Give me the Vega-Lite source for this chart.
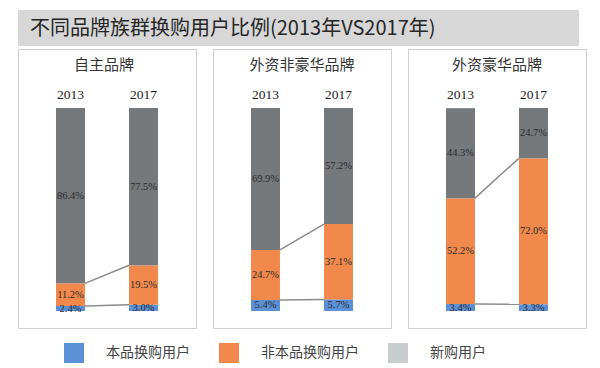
{
  "$schema": "https://vega.github.io/schema/vega-lite/v6.json",
  "padding": {"left": 17, "top": 10, "right": 4, "bottom": 4},
  "background": "white",
  "data": {"values": [
    {"brand": "自主品牌", "year": "2013", "type": "本品换购用户", "value": 2.4},
    {"brand": "自主品牌", "year": "2013", "type": "非本品换购用户", "value": 11.2},
    {"brand": "自主品牌", "year": "2013", "type": "新购用户", "value": 86.4},
    {"brand": "自主品牌", "year": "2017", "type": "本品换购用户", "value": 3.0},
    {"brand": "自主品牌", "year": "2017", "type": "非本品换购用户", "value": 19.5},
    {"brand": "自主品牌", "year": "2017", "type": "新购用户", "value": 77.5},
    {"brand": "外资非豪华品牌", "year": "2013", "type": "本品换购用户", "value": 5.4},
    {"brand": "外资非豪华品牌", "year": "2013", "type": "非本品换购用户", "value": 24.7},
    {"brand": "外资非豪华品牌", "year": "2013", "type": "新购用户", "value": 69.9},
    {"brand": "外资非豪华品牌", "year": "2017", "type": "本品换购用户", "value": 5.7},
    {"brand": "外资非豪华品牌", "year": "2017", "type": "非本品换购用户", "value": 37.1},
    {"brand": "外资非豪华品牌", "year": "2017", "type": "新购用户", "value": 57.2},
    {"brand": "外资豪华品牌", "year": "2013", "type": "本品换购用户", "value": 3.4},
    {"brand": "外资豪华品牌", "year": "2013", "type": "非本品换购用户", "value": 52.2},
    {"brand": "外资豪华品牌", "year": "2013", "type": "新购用户", "value": 44.3},
    {"brand": "外资豪华品牌", "year": "2017", "type": "本品换购用户", "value": 3.3},
    {"brand": "外资豪华品牌", "year": "2017", "type": "非本品换购用户", "value": 72.0},
    {"brand": "外资豪华品牌", "year": "2017", "type": "新购用户", "value": 24.7}
  ]},
  "transform": [
    {"calculate": "indexof(['本品换购用户','非本品换购用户','新购用户'], datum.type)", "as": "ord"},
    {"stack": "value", "groupby": ["brand", "year"], "sort": [{"field": "ord", "order": "ascending"}], "as": ["y0", "y1"]},
    {"calculate": "(datum.y0 + datum.y1) / 2", "as": "ym"},
    {"calculate": "format(datum.value, '.1f') + '%'", "as": "label"}
  ],
  "spacing": 2,
  "vconcat": [
    {
      "width": 561, "height": 36,
      "view": {"fill": "#d7d7d7", "stroke": null},
      "title": {"text": "不同品牌族群换购用户比例(2013年VS2017年)", "anchor": "start", "offset": -29, "dx": 12, "fontSize": 20, "color": "#262626"},
      "data": {"values": [{}]},
      "transform": [],
      "mark": {"type": "text"},
      "encoding": {"text": {"value": ""}}
    },
    {
      "spacing": 15,
      "hconcat": [
        {
          "width": 178, "height": 279,
          "view": {"stroke": "#cfcfcf", "fill": "#ffffff"},
          "title": {"text": "自主品牌", "dx": -3},
          "transform": [{"filter": "datum.brand === '自主品牌'"}],
          "layer": [
            {
              "mark": {"type": "bar"},
              "encoding": {
                "x": {"field": "year", "type": "ordinal", "title": null, "scale": {"range": [15.5, 162.5], "paddingInner": 0.603, "paddingOuter": 0.308}, "axis": {"labels": false, "tickBand": "extent", "tickSize": 4, "domainColor": "#bdbdbd", "tickColor": "#bdbdbd"}},
                "y": {"field": "y0", "type": "quantitative", "scale": {"domain": [-8.4, 129.1], "nice": false, "zero": false}, "axis": null},
                "y2": {"field": "y1"},
                "color": {"field": "type", "type": "nominal", "title": null, "scale": {"domain": ["本品换购用户", "非本品换购用户", "新购用户"], "range": ["#5b8fd6", "#f2894c", "#c9cdcd"]}}
              }
            },
            {
              "transform": [{"filter": "datum.type === '新购用户'"}],
              "mark": {"type": "bar", "color": "#76797c"},
              "encoding": {
                "x": {"field": "year", "type": "ordinal", "axis": null},
                "y": {"field": "y0", "type": "quantitative", "scale": {"domain": [-8.4, 129.1], "nice": false, "zero": false}, "axis": null},
                "y2": {"field": "y1"}
              }
            },
            {
              "transform": [{"filter": "datum.type !== '新购用户'"}, {"pivot": "year", "value": "y1", "groupby": ["type"]}],
              "mark": {"type": "rule", "color": "#8c8c8c", "strokeWidth": 1.5},
              "encoding": {
                "x": {"datum": "2013", "type": "ordinal", "bandPosition": 1, "axis": null},
                "x2": {"datum": "2017", "bandPosition": 0},
                "y": {"field": "2013", "type": "quantitative", "scale": {"domain": [-8.4, 129.1], "nice": false, "zero": false}, "axis": null},
                "y2": {"field": "2017"}
              }
            },
            {
              "mark": {"type": "text", "font": "Liberation Serif", "fontSize": 10.5, "color": "#2b2b2b"},
              "encoding": {
                "x": {"field": "year", "type": "ordinal", "axis": null},
                "y": {"field": "ym", "type": "quantitative", "scale": {"domain": [-8.4, 129.1], "nice": false, "zero": false}, "axis": null},
                "text": {"field": "label"}
              }
            },
            {
              "transform": [{"filter": "datum.type === '本品换购用户'"}],
              "mark": {"type": "text", "font": "Liberation Serif", "fontSize": 13.5, "color": "#222222"},
              "encoding": {
                "x": {"field": "year", "type": "ordinal", "axis": null},
                "y": {"datum": 106.6, "type": "quantitative", "scale": {"domain": [-8.4, 129.1], "nice": false, "zero": false}, "axis": null},
                "text": {"field": "year"}
              }
            }
          ]
        },
        {
          "width": 178, "height": 279,
          "view": {"stroke": "#cfcfcf", "fill": "#ffffff"},
          "title": {"text": "外资非豪华品牌"},
          "transform": [{"filter": "datum.brand === '外资非豪华品牌'"}],
          "layer": [
            {
              "mark": {"type": "bar"},
              "encoding": {
                "x": {"field": "year", "type": "ordinal", "title": null, "scale": {"range": [15.5, 162.5], "paddingInner": 0.603, "paddingOuter": 0.308}, "axis": {"labels": false, "tickBand": "extent", "tickSize": 4, "domainColor": "#bdbdbd", "tickColor": "#bdbdbd"}},
                "y": {"field": "y0", "type": "quantitative", "scale": {"domain": [-8.4, 129.1], "nice": false, "zero": false}, "axis": null},
                "y2": {"field": "y1"},
                "color": {"field": "type", "type": "nominal", "title": null, "scale": {"domain": ["本品换购用户", "非本品换购用户", "新购用户"], "range": ["#5b8fd6", "#f2894c", "#c9cdcd"]}}
              }
            },
            {
              "transform": [{"filter": "datum.type === '新购用户'"}],
              "mark": {"type": "bar", "color": "#76797c"},
              "encoding": {
                "x": {"field": "year", "type": "ordinal", "axis": null},
                "y": {"field": "y0", "type": "quantitative", "scale": {"domain": [-8.4, 129.1], "nice": false, "zero": false}, "axis": null},
                "y2": {"field": "y1"}
              }
            },
            {
              "transform": [{"filter": "datum.type !== '新购用户'"}, {"pivot": "year", "value": "y1", "groupby": ["type"]}],
              "mark": {"type": "rule", "color": "#8c8c8c", "strokeWidth": 1.5},
              "encoding": {
                "x": {"datum": "2013", "type": "ordinal", "bandPosition": 1, "axis": null},
                "x2": {"datum": "2017", "bandPosition": 0},
                "y": {"field": "2013", "type": "quantitative", "scale": {"domain": [-8.4, 129.1], "nice": false, "zero": false}, "axis": null},
                "y2": {"field": "2017"}
              }
            },
            {
              "mark": {"type": "text", "font": "Liberation Serif", "fontSize": 10.5, "color": "#2b2b2b"},
              "encoding": {
                "x": {"field": "year", "type": "ordinal", "axis": null},
                "y": {"field": "ym", "type": "quantitative", "scale": {"domain": [-8.4, 129.1], "nice": false, "zero": false}, "axis": null},
                "text": {"field": "label"}
              }
            },
            {
              "transform": [{"filter": "datum.type === '本品换购用户'"}],
              "mark": {"type": "text", "font": "Liberation Serif", "fontSize": 13.5, "color": "#222222"},
              "encoding": {
                "x": {"field": "year", "type": "ordinal", "axis": null},
                "y": {"datum": 106.6, "type": "quantitative", "scale": {"domain": [-8.4, 129.1], "nice": false, "zero": false}, "axis": null},
                "text": {"field": "year"}
              }
            }
          ]
        },
        {
          "width": 178, "height": 279,
          "view": {"stroke": "#cfcfcf", "fill": "#ffffff"},
          "title": {"text": "外资豪华品牌"},
          "transform": [{"filter": "datum.brand === '外资豪华品牌'"}],
          "layer": [
            {
              "mark": {"type": "bar"},
              "encoding": {
                "x": {"field": "year", "type": "ordinal", "title": null, "scale": {"range": [15.5, 162.5], "paddingInner": 0.603, "paddingOuter": 0.308}, "axis": {"labels": false, "tickBand": "extent", "tickSize": 4, "domainColor": "#bdbdbd", "tickColor": "#bdbdbd"}},
                "y": {"field": "y0", "type": "quantitative", "scale": {"domain": [-8.4, 129.1], "nice": false, "zero": false}, "axis": null},
                "y2": {"field": "y1"},
                "color": {"field": "type", "type": "nominal", "title": null, "scale": {"domain": ["本品换购用户", "非本品换购用户", "新购用户"], "range": ["#5b8fd6", "#f2894c", "#c9cdcd"]}}
              }
            },
            {
              "transform": [{"filter": "datum.type === '新购用户'"}],
              "mark": {"type": "bar", "color": "#76797c"},
              "encoding": {
                "x": {"field": "year", "type": "ordinal", "axis": null},
                "y": {"field": "y0", "type": "quantitative", "scale": {"domain": [-8.4, 129.1], "nice": false, "zero": false}, "axis": null},
                "y2": {"field": "y1"}
              }
            },
            {
              "transform": [{"filter": "datum.type !== '新购用户'"}, {"pivot": "year", "value": "y1", "groupby": ["type"]}],
              "mark": {"type": "rule", "color": "#8c8c8c", "strokeWidth": 1.5},
              "encoding": {
                "x": {"datum": "2013", "type": "ordinal", "bandPosition": 1, "axis": null},
                "x2": {"datum": "2017", "bandPosition": 0},
                "y": {"field": "2013", "type": "quantitative", "scale": {"domain": [-8.4, 129.1], "nice": false, "zero": false}, "axis": null},
                "y2": {"field": "2017"}
              }
            },
            {
              "mark": {"type": "text", "font": "Liberation Serif", "fontSize": 10.5, "color": "#2b2b2b"},
              "encoding": {
                "x": {"field": "year", "type": "ordinal", "axis": null},
                "y": {"field": "ym", "type": "quantitative", "scale": {"domain": [-8.4, 129.1], "nice": false, "zero": false}, "axis": null},
                "text": {"field": "label"}
              }
            },
            {
              "transform": [{"filter": "datum.type === '本品换购用户'"}],
              "mark": {"type": "text", "font": "Liberation Serif", "fontSize": 13.5, "color": "#222222"},
              "encoding": {
                "x": {"field": "year", "type": "ordinal", "axis": null},
                "y": {"datum": 106.6, "type": "quantitative", "scale": {"domain": [-8.4, 129.1], "nice": false, "zero": false}, "axis": null},
                "text": {"field": "year"}
              }
            }
          ]
        }
      ]
    }
  ],
  "config": {
    "title": {"font": "Noto Sans CJK SC", "fontWeight": "normal", "fontSize": 15, "color": "#333333", "offset": -24},
    "legend": {
      "orient": "none", "legendX": 46, "legendY": 333, "direction": "horizontal", "columns": 3,
      "symbolType": "square", "symbolSize": 400, "symbolStrokeWidth": 0, "symbolOpacity": 1,
      "labelFont": "Noto Sans CJK SC", "labelFontSize": 14, "labelColor": "#444444", "labelOffset": 22,
      "columnPadding": 29, "labelLimit": 0, "padding": 0
    }
  }
}
